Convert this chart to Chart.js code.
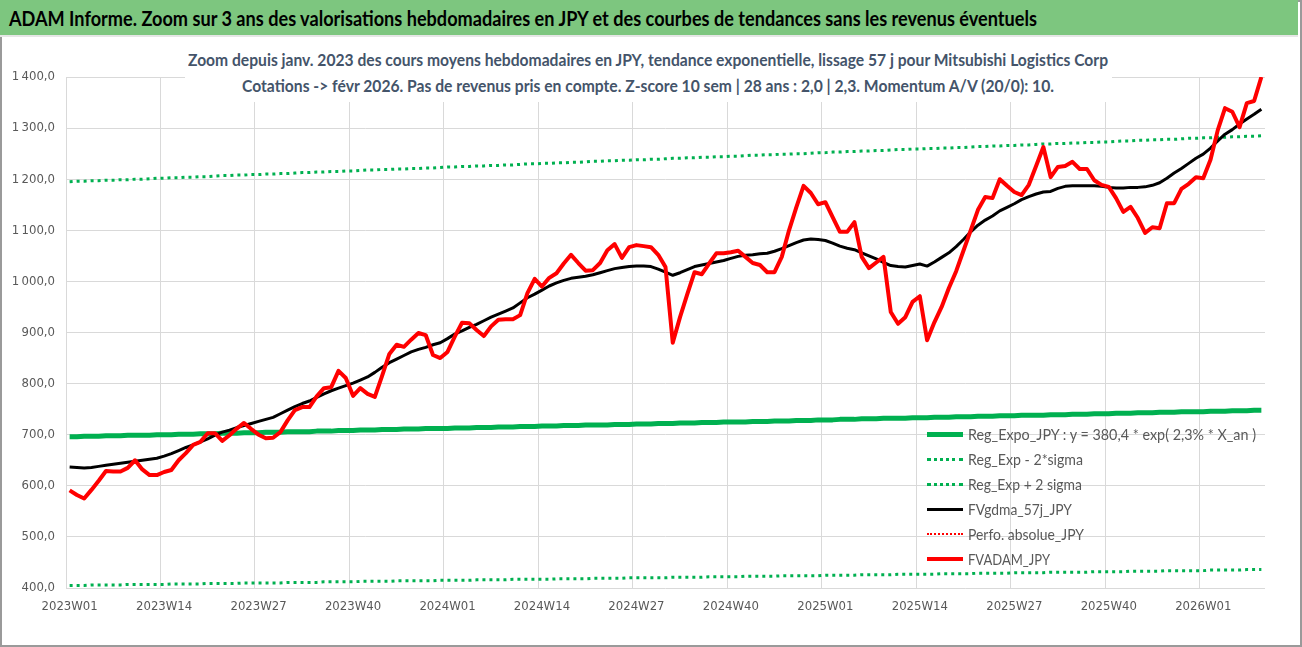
<!DOCTYPE html>
<html lang="fr">
<head>
<meta charset="utf-8">
<title>ADAM Informe - Mitsubishi Logistics Corp</title>
<script src="https://cdn.jsdelivr.net/npm/chart.js@4.4.1/dist/chart.umd.min.js"></script>
<style>
  body { margin: 0; width: 1302px; height: 647px; background: #fff; overflow: hidden; font-family: Lato, 'Open Sans', sans-serif; }
  #cadre { position: absolute; left: 0; top: 0; width: 1298px; height: 643px; border: 2px solid #9a9a9a; }
  #bandeau { position: absolute; left: 0; top: 0; width: 1298px; height: 35px; background: #7dc67f; border-bottom: 2px solid #e6e6e6; }
  #bandeau span { position: absolute; left: 9px; top: 5px; font-size: 21px; font-weight: bold; color: #000; }
  #zone { position: absolute; left: 0; top: 37px; width: 1298px; height: 605px; }
  #titre { position: absolute; left: 185px; top: 45px; width: 927px; height: 57px; background: #fff; }
  #titre span { position: absolute; color: #44546a; font-weight: bold; font-size: 17px; }
  #legende { position: absolute; left: 927px; top: 422px; font-size: 15px; color: #595959; }
  .ligne { height: 25px; position: relative; }
  .trait { position: absolute; left: 0; top: 12px; width: 36px; height: 0; }
  .ligne span { position: absolute; left: 41px; top: 3px; }
  .fit { white-space: nowrap; transform-origin: 0 50%; display: inline-block; }
</style>
</head>
<body>
<div id="cadre"></div>
<div id="bandeau"><span class="fit" data-w="1028">ADAM Informe. Zoom sur 3 ans des valorisations hebdomadaires en JPY et des courbes de tendances sans les revenus éventuels</span></div>
<div id="zone"><canvas id="grafico" width="1298" height="605"></canvas></div>
<div id="titre">
  <span class="fit" data-w="920" style="left:3px;top:4px">Zoom depuis janv. 2023 des cours moyens hebdomadaires en JPY, tendance exponentielle, lissage 57 j pour Mitsubishi Logistics Corp</span>
  <span class="fit" data-w="812" style="left:57px;top:30px">Cotations -&gt; févr 2026. Pas de revenus pris en compte. Z-score 10 sem | 28 ans : 2,0 | 2,3. Momentum A/V (20/0): 10.</span>
</div>
<div id="legende"></div>
<script>
// semaines 2023W01 -> 2026W09
const annees = [2023, 2024, 2025, 2026];
const semainesParAnnee = [52, 52, 52, 9];
const semaines = [];
annees.forEach((a, k) => {
  for (let w = 1; w <= semainesParAnnee[k]; w++) semaines.push(a + 'W' + String(w).padStart(2, '0'));
});

const fvAdam = [591,582,575,592,610,629,628,628,635,650,
  632,621,621,627,631,650,664,680,686,703,
  703,688,699,712,723,711,700,693,694,705,
  728,748,754,754,775,791,793,825,811,776,
  791,780,774,815,858,876,872,886,899,895,
  856,850,862,892,919,918,905,893,912,925,
  926,926,934,977,1005,990,1007,1016,1035,1052,
  1036,1021,1022,1036,1061,1073,1046,1067,1071,1069,
  1067,1052,1028,880,930,975,1018,1014,1035,1055,
  1055,1057,1060,1048,1036,1032,1018,1018,1048,1100,
  1145,1187,1173,1151,1155,1126,1097,1097,1116,1048,
  1026,1037,1048,940,917,930,960,971,885,920,
  950,987,1020,1060,1100,1140,1165,1163,1200,1187,
  1175,1169,1189,1226,1263,1204,1224,1226,1234,1220,
  1220,1198,1189,1185,1163,1136,1146,1124,1095,1106,
  1104,1153,1153,1181,1191,1204,1202,1238,1296,1339,
  1332,1302,1349,1353,1400];

const fvGdma57 = [637,636,635,636,638,640,642,644,646,648,
  650,652,654,658,663,669,675,680,686,692,
  699,705,709,714,718,722,726,730,734,741,
  748,755,761,766,773,780,786,791,796,801,
  807,813,822,832,841,848,855,862,867,871,
  876,880,888,897,903,910,916,923,930,936,
  942,948,958,968,975,983,991,997,1002,1006,
  1008,1010,1013,1017,1021,1025,1027,1029,1030,1030,
  1029,1024,1018,1012,1017,1023,1029,1032,1035,1038,
  1041,1045,1049,1051,1052,1054,1055,1059,1064,1070,
  1076,1081,1083,1082,1080,1075,1069,1065,1062,1056,
  1050,1044,1037,1031,1029,1028,1031,1034,1030,1038,
  1047,1056,1068,1082,1097,1110,1120,1128,1138,1145,
  1152,1160,1166,1171,1175,1176,1182,1186,1187,1187,
  1187,1187,1186,1184,1183,1183,1184,1184,1185,1188,
  1193,1202,1212,1221,1231,1241,1249,1261,1275,1288,
  1297,1308,1318,1327,1337];

const regExpo = [696,696,697,697,697,698,698,698,699,699,
  699,699,700,700,700,701,701,701,702,702,
  702,703,703,703,704,704,704,705,705,705,
  706,706,706,706,707,707,707,708,708,708,
  709,709,709,710,710,710,711,711,711,712,
  712,712,712,713,713,713,714,714,714,715,
  715,715,716,716,716,717,717,717,718,718,
  718,719,719,719,719,720,720,720,721,721,
  721,722,722,722,723,723,723,724,724,724,
  725,725,725,725,726,726,726,727,727,727,
  728,728,728,729,729,729,730,730,730,731,
  731,731,732,732,732,732,733,733,733,734,
  734,734,735,735,735,736,736,736,737,737,
  737,738,738,738,738,739,739,739,740,740,
  740,741,741,741,742,742,742,743,743,743,
  744,744,744,745,745,745,745,746,746,746,
  747,747,747,748,748];

const regPlus2s = [1195,1196,1196,1197,1197,1198,1198,1199,1199,1200,
  1200,1201,1202,1202,1203,1203,1204,1204,1205,1205,
  1206,1207,1207,1208,1208,1209,1209,1210,1210,1211,
  1211,1212,1213,1213,1214,1214,1215,1215,1216,1216,
  1217,1218,1218,1219,1219,1220,1220,1221,1221,1222,
  1222,1223,1224,1224,1225,1225,1226,1226,1227,1227,
  1228,1228,1229,1230,1230,1231,1231,1232,1232,1233,
  1233,1234,1235,1235,1236,1236,1237,1237,1238,1238,
  1239,1239,1240,1241,1241,1242,1242,1243,1243,1244,
  1244,1245,1245,1246,1247,1247,1248,1248,1249,1249,
  1250,1250,1251,1252,1252,1253,1253,1254,1254,1255,
  1255,1256,1256,1257,1258,1258,1259,1259,1260,1260,
  1261,1261,1262,1262,1263,1264,1264,1265,1265,1266,
  1266,1267,1267,1268,1269,1269,1270,1270,1271,1271,
  1272,1272,1273,1273,1274,1275,1275,1276,1276,1277,
  1277,1278,1278,1279,1280,1280,1281,1281,1282,1282,
  1283,1283,1284,1284,1285];

const regMoins2s = [405,405,405,406,406,406,406,406,407,407,
  407,407,407,407,408,408,408,408,408,409,
  409,409,409,409,410,410,410,410,410,410,
  411,411,411,411,411,412,412,412,412,412,
  413,413,413,413,413,414,414,414,414,414,
  414,415,415,415,415,415,416,416,416,416,
  416,417,417,417,417,417,417,418,418,418,
  418,418,419,419,419,419,419,420,420,420,
  420,420,420,421,421,421,421,421,422,422,
  422,422,422,423,423,423,423,423,424,424,
  424,424,424,424,425,425,425,425,425,426,
  426,426,426,426,427,427,427,427,427,427,
  428,428,428,428,428,429,429,429,429,429,
  430,430,430,430,430,431,431,431,431,431,
  431,432,432,432,432,432,433,433,433,433,
  433,434,434,434,434,434,434,435,435,435,
  435,435,436,436,436];

const perfoAbsolue = [];

const yMin = 400, yMax = 1400, yPas = 100;
const pasEtiquettes = 13;

const VERT = '#00b050';
const series = [
  { label: 'Reg_Expo_JPY : y = 380,4 * exp( 2,3% *   X_an )', data: regExpo, color: VERT, width: 5, dash: [], order: 5, w: 288 },
  { label: 'Reg_Exp - 2*sigma', data: regMoins2s, color: VERT, width: 3, dash: [3, 4], order: 4, w: 115 },
  { label: 'Reg_Exp + 2 sigma', data: regPlus2s, color: VERT, width: 3, dash: [3, 4], order: 3, w: 114 },
  { label: 'FVgdma_57j_JPY', data: fvGdma57, color: '#000000', width: 3, dash: [], order: 2, w: 104 },
  { label: 'Perfo. absolue_JPY', data: perfoAbsolue, color: '#ff0000', width: 2, dash: [2, 2], order: 1, w: 116 },
  { label: 'FVADAM_JPY', data: fvAdam, color: '#ff0000', width: 4, dash: [], order: 0, w: 82 }
];

Chart.defaults.font.family = "'DejaVu Sans Condensed', sans-serif";
Chart.defaults.font.size = 13;
Chart.defaults.color = '#595959';

const ctx = document.getElementById('grafico').getContext('2d');
new Chart(ctx, {
  type: 'line',
  data: {
    labels: semaines,
    datasets: series.map(s => ({
      label: s.label,
      data: s.data,
      borderColor: s.color,
      backgroundColor: s.color,
      borderWidth: s.width,
      borderDash: s.dash,
      borderCapStyle: 'butt',
      borderJoinStyle: 'round',
      pointRadius: 0,
      tension: 0,
      fill: false,
      order: s.order
    }))
  },
  options: {
    responsive: false,
    animation: false,
    events: [],
    layout: { padding: { left: 0, top: 40, right: 33, bottom: 0 } },
    plugins: { legend: { display: false }, tooltip: { enabled: false }, title: { display: false } },
    scales: {
      x: {
        offset: true,
        grid: {
          offset: true,
          drawTicks: false,
          color: c => (c.index % pasEtiquettes === 0 ? '#d9d9d9' : 'rgba(0,0,0,0)')
        },
        border: { display: false },
        ticks: {
          autoSkip: false,
          maxRotation: 0,
          padding: 11,
          callback: (v, i) => (i % pasEtiquettes === 0 ? semaines[i] : '')
        },
        afterFit: s => { s.height = 54; }
      },
      y: {
        min: yMin,
        max: yMax,
        grid: { color: '#d9d9d9', drawTicks: false },
        border: { display: false },
        ticks: {
          stepSize: yPas,
          padding: 11,
          callback: v => v.toLocaleString('fr-FR', { minimumFractionDigits: 1, maximumFractionDigits: 1 })
        },
        afterFit: s => { s.width = 66; }
      }
    }
  }
});

// legende a la maniere d'Excel, posee sur la zone de trace
const leg = document.getElementById('legende');
series.forEach(s => {
  const row = document.createElement('div');
  row.className = 'ligne';
  const t = document.createElement('div');
  t.className = 'trait';
  t.style.borderTop = s.width + 'px ' + (s.dash.length ? 'dotted ' : 'solid ') + s.color;
  t.style.top = (12 - s.width / 2) + 'px';
  const lab = document.createElement('span');
  lab.className = 'fit';
  lab.dataset.w = s.w;
  lab.textContent = s.label;
  row.appendChild(t);
  row.appendChild(lab);
  leg.appendChild(row);
});

document.querySelectorAll('.fit').forEach(el => {
  const w = el.getBoundingClientRect().width;
  el.style.transform = 'scaleX(' + (parseFloat(el.dataset.w) / w).toFixed(4) + ')';
});
</script>
</body>
</html>
